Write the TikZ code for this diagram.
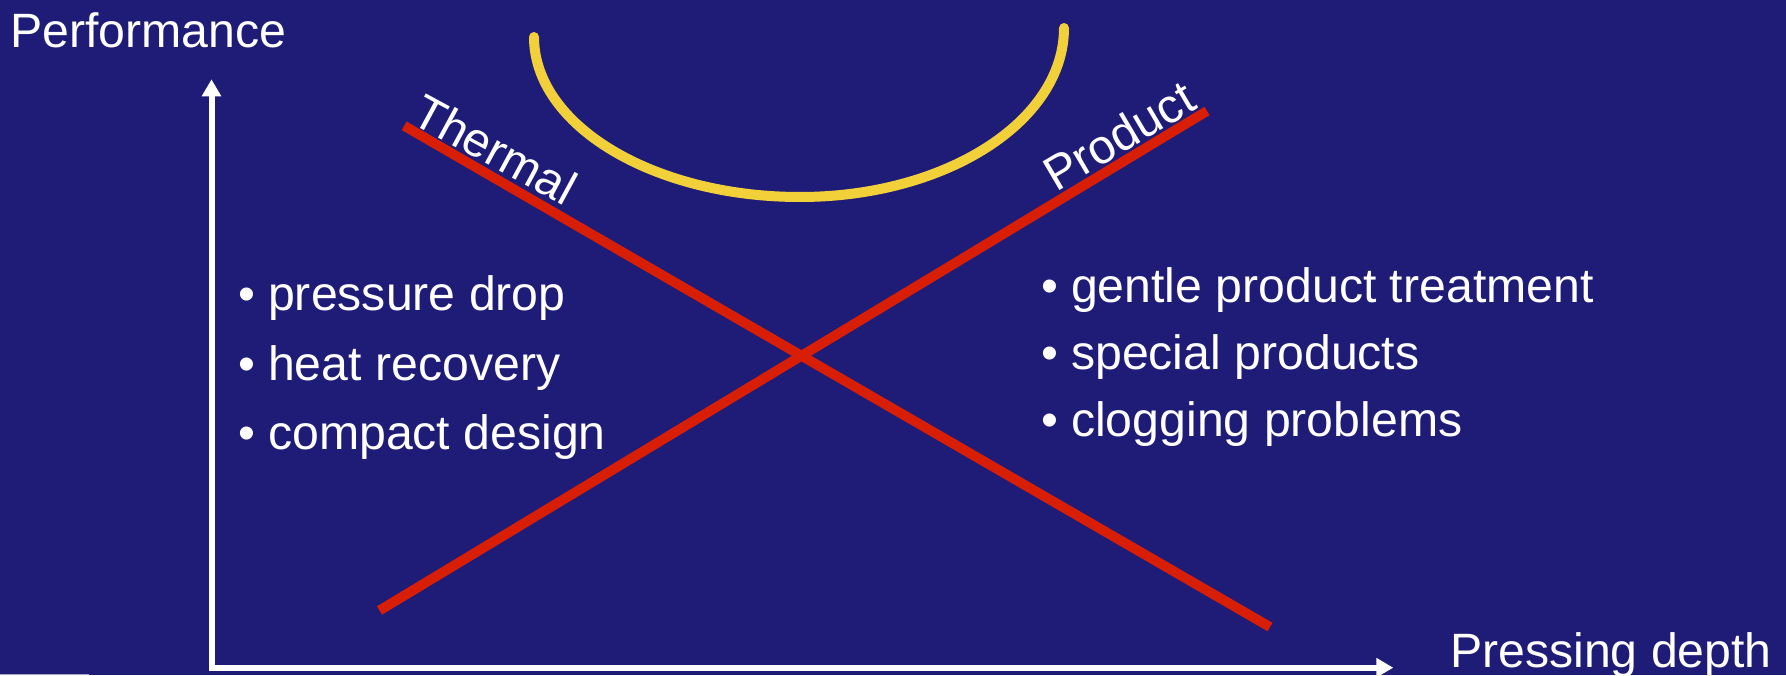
\documentclass[tikz,border=0pt]{standalone}
\usepackage{fontspec}
\setmainfont{Liberation Sans}
\usetikzlibrary{arrows.meta}
\definecolor{bg}{RGB}{31,28,119}
\definecolor{redline}{RGB}{216,30,5}
\definecolor{yel}{RGB}{242,208,58}
\newcommand{\bul}[1]{\makebox[30pt][l]{•}#1}
\begin{document}
\begin{tikzpicture}[x=1pt,y=1pt,
  lbl/.style={text=white, inner sep=0pt, anchor=base west, font=\fontsize{48.2}{57}\selectfont},
  axisline/.style={white, line width=6pt, line join=miter,
    {Triangle[length=17pt,width=18.5pt]}-{Triangle[length=17pt,width=18.5pt]}},
  redstroke/.style={redline, line width=9.8pt},
  arcline/.style={yel, line width=10pt, line cap=round}]
\fill[bg] (0,0) rectangle (1786,675);
\useasboundingbox (0,0) rectangle (1786,675);
% faint artifact at bottom left
\draw[color={rgb,255:red,170;green,170;blue,200}, line width=1.2pt] (0,0.6) -- (89,0.6);
% axes
\coordinate (ytip) at (211.5,595.7);
\coordinate (corner) at (211.5,7.3);
\coordinate (xtip) at (1393.3,7.3);
\draw[axisline] (ytip) -- (corner) -- (xtip);
\node[lbl] (perf) at (10,627) {Performance};
\node[lbl] (depth) at (1450,8) {Pressing depth};
% yellow arc
\coordinate (arcstart) at (534,638);
\draw[arcline] (arcstart) arc[start angle=180, end angle=270, x radius=266, y radius=160]
  arc[start angle=270, end angle=360, x radius=264, y radius=169];
% red lines
\coordinate (th1) at (404.2,549.2);
\coordinate (th2) at (1270,48);
\coordinate (pr1) at (379.5,64.5);
\coordinate (pr2) at (1207,564);
\draw[redstroke] (th1) -- (th2);
\draw[redstroke] (pr1) -- (pr2);
\node[lbl, rotate=-28.5] (thermal) at (409,553) {Thermal};
\node[lbl, rotate=30.5] (product) at (1056,482.4) {Product};
% bullet lists
\node[lbl] (l1) at (238,364) {\bul{pressure drop}};
\node[lbl] (l2) at (238,294) {\bul{heat recovery}};
\node[lbl] (l3) at (238,225) {\bul{compact design}};
\node[lbl] (r1) at (1041,372) {\bul{gentle product treatment}};
\node[lbl] (r2) at (1041,305) {\bul{special products}};
\node[lbl] (r3) at (1041,238) {\bul{clogging problems}};
\end{tikzpicture}
\end{document}
